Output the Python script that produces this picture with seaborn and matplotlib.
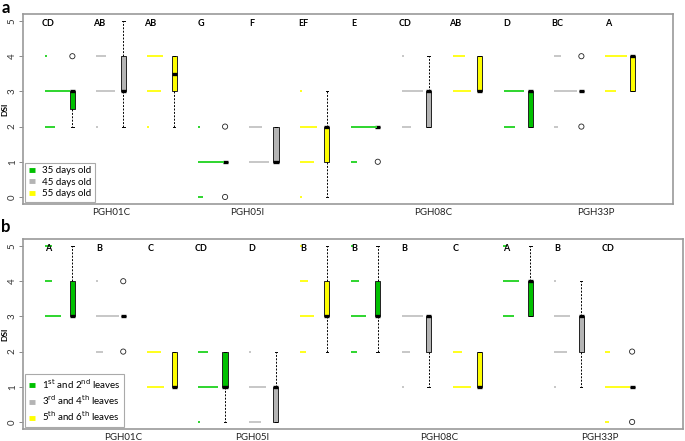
import numpy as np
import pandas as pd
import matplotlib
matplotlib.use('Agg')
import matplotlib.pyplot as plt
import seaborn as sns
from matplotlib.lines import Line2D

plt.rcParams['font.family'] = ['Lato', 'DejaVu Sans']

# DSI scale and genotypes
dsi_levels = [0, 1, 2, 3, 4, 5]
genotypes = ['PGH01C', 'PGH05I', 'PGH08C', 'PGH33P']

# panel a: plant age; panel b: leaf position
age_groups = ['35 days old', '45 days old', '55 days old']
leaf_groups = [r'1$^{\mathrm{st}}$ and 2$^{\mathrm{nd}}$ leaves',
               r'3$^{\mathrm{rd}}$ and 4$^{\mathrm{th}}$ leaves',
               r'5$^{\mathrm{th}}$ and 6$^{\mathrm{th}}$ leaves']

# number of plants at each DSI level (0..5), one row per box, genotype by genotype
age_counts = [
    [0, 0, 6, 16, 1, 0],
    [0, 0, 1, 12, 6, 1],
    [0, 0, 1, 9, 10, 0],
    [3, 17, 1, 0, 0, 0],
    [0, 13, 8, 0, 0, 0],
    [1, 9, 11, 1, 0, 0],
    [0, 4, 17, 0, 0, 0],
    [0, 0, 6, 14, 1, 0],
    [0, 0, 0, 12, 8, 0],
    [0, 0, 7, 13, 0, 0],
    [0, 0, 2, 15, 4, 0],
    [0, 0, 0, 7, 14, 0],
]
age_letters = ['CD', 'AB', 'AB', 'G', 'F', 'EF', 'E', 'CD', 'AB', 'D', 'BC', 'A']

leaf_counts = [
    [0, 0, 0, 10, 4, 4],
    [0, 0, 4, 15, 1, 0],
    [0, 11, 9, 0, 0, 0],
    [1, 13, 6, 0, 0, 0],
    [8, 11, 1, 0, 0, 0],
    [0, 0, 4, 9, 5, 1],
    [0, 0, 4, 10, 5, 1],
    [0, 1, 5, 14, 0, 0],
    [0, 12, 6, 0, 0, 0],
    [0, 0, 0, 7, 10, 2],
    [0, 1, 8, 10, 1, 0],
    [2, 16, 3, 0, 0, 0],
]
leaf_letters = ['A', 'B', 'C', 'CD', 'D', 'B', 'B', 'B', 'C', 'A', 'B', 'CD']

box_cols = ['#00C000', '#B4B4B4', '#FFFF00']
strip_cols = ['#33D633', '#C8C8C8', '#FFFF22']


def make_df(counts, groups):
    rows = []
    for i, cnt in enumerate(counts):
        for v, c in zip(dsi_levels, cnt):
            for _ in range(c):
                rows.append((i, groups[i % 3], v))
    return pd.DataFrame(rows, columns=['pos', 'group', 'dsi'])


def draw_panel(ax, counts, groups, letters, geno_x, xmax):
    df = make_df(counts, groups)
    sns.boxplot(data=df, x='pos', y='dsi', hue='group', hue_order=groups,
                palette=box_cols, saturation=1, dodge=False, width=0.1, ax=ax,
                legend=False, linecolor='#222222', linewidth=0.7, showfliers=False,
                medianprops=dict(color='black', linewidth=2.4),
                whiskerprops=dict(color='black', linewidth=0.7, linestyle=(0, (2, 1.5))),
                capprops=dict(color='black', linewidth=0.7))
    # outliers (one circle per distinct value, as in the original)
    for i, sub in df.groupby('pos'):
        q1, q3 = np.percentile(sub['dsi'], [25, 75])
        iqr = q3 - q1
        out = sub['dsi'][(sub['dsi'] < q1 - 1.5 * iqr) | (sub['dsi'] > q3 + 1.5 * iqr)].unique()
        ax.scatter(np.full(len(out), i), out, marker='o', s=14, facecolors='none',
                   edgecolors='#222222', linewidths=0.6, zorder=4)
    # stacked strip of plants left of each box
    step = 0.0295
    for i, cnt in enumerate(counts):
        for v, c in zip(dsi_levels, cnt):
            if c == 0:
                continue
            xs = i - 0.51 + np.arange(c) * step
            ax.scatter(xs, np.full(c, v), marker='s', s=2.6, color=strip_cols[i % 3],
                       linewidths=0, zorder=3)
    for i, lab in enumerate(letters):
        ax.text(i - 0.47, 4.92, lab, ha='center', va='center', fontsize=6.5,
                fontweight='bold', zorder=5)
    ax.set_xlim(-0.97, xmax)
    ax.set_ylim(-0.2, 5.2)
    ax.set_yticks(dsi_levels)
    ax.set_yticklabels([str(v) for v in dsi_levels], rotation=90, va='center',
                       fontsize=7, color='#333333')
    ax.set_xticks(geno_x)
    ax.set_xticklabels(genotypes, fontsize=7, color='#222222')
    ax.tick_params(axis='x', length=0, pad=3)
    ax.tick_params(axis='y', length=3, width=0.6, color='#777777', pad=1.5)
    ax.set_xlabel('')
    ax.set_ylabel('DSI', fontsize=6, fontweight='bold')
    ax.yaxis.set_label_coords(-0.0225, 0.5)
    for sp in ax.spines.values():
        sp.set_color('#999999')
        sp.set_linewidth(1.2)
    handles = [Line2D([0], [0], color=c, lw=3.5, solid_capstyle='butt') for c in box_cols]
    leg = ax.legend(handles, groups, loc='lower left', fontsize=7, handlelength=0.6,
                    handletextpad=0.8, borderaxespad=0.25, borderpad=0.35,
                    labelspacing=0.25, fancybox=False, framealpha=1)
    leg.get_frame().set_edgecolor('#AAAAAA')
    leg.get_frame().set_linewidth(0.8)


fig = plt.figure(figsize=(6.85, 4.41), dpi=100)
ax_a = fig.add_axes([23 / 685, 1 - 204 / 441, 650 / 685, 190 / 441])
ax_b = fig.add_axes([23 / 685, 1 - 429 / 441, 660 / 685, 190 / 441])

draw_panel(ax_a, age_counts, age_groups, age_letters, [0.77, 3.43, 7.09, 10.29], 11.8)
draw_panel(ax_b, leaf_counts, leaf_groups, leaf_letters, [1.0, 3.53, 7.2, 10.37], 12.0)

fig.text(0.002, 0.999, 'a', fontsize=12, fontweight='bold', va='top', ha='left')
fig.text(0.002, 1 - 219 / 441, 'b', fontsize=12, fontweight='bold', va='top', ha='left')

fig.savefig('out.png', dpi=100)
